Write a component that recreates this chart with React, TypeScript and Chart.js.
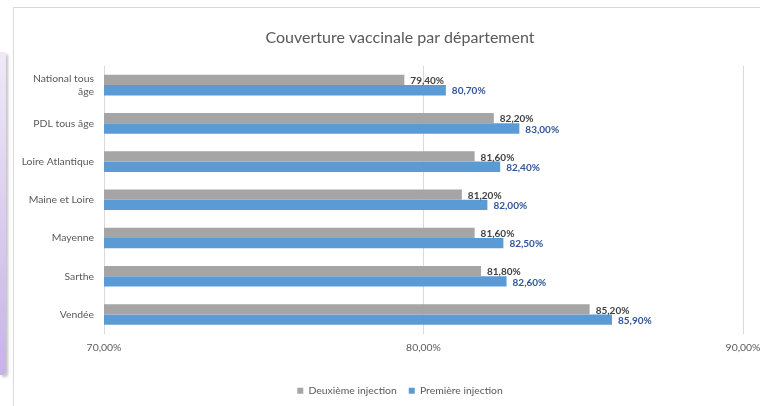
import React, { useEffect, useRef } from "react";
import { Chart, registerables } from "chart.js";

Chart.register(...registerables);

const categories: (string | string[])[] = [
  ["National tous", "âge"],
  "PDL tous âge",
  "Loire Atlantique",
  "Maine et Loire",
  "Mayenne",
  "Sarthe",
  "Vendée",
];
const deuxiemeInjection = [79.4, 82.2, 81.6, 81.2, 81.6, 81.8, 85.2];
const premiereInjection = [80.7, 83.0, 82.4, 82.0, 82.5, 82.6, 85.9];
const xTicks = [70, 80, 90];

const FONT = "Lato, 'Liberation Sans', sans-serif";
const fmt = (v: number) => v.toFixed(2).replace(".", ",") + "%";

const labelColors = ["#404040", "#2F5597"];

const dataLabelPlugin = {
  id: "dataLabels",
  afterDatasetsDraw(chart: any) {
    const ctx = chart.ctx;
    ctx.save();
    ctx.font = `bold 10px ${FONT}`;
    ctx.textAlign = "left";
    ctx.textBaseline = "middle";
    chart.data.datasets.forEach((ds: any, di: number) => {
      const meta = chart.getDatasetMeta(di);
      ctx.fillStyle = labelColors[di];
      meta.data.forEach((el: any, i: number) => {
        ctx.fillText(fmt(ds.data[i]), el.x + 6, el.y + 1);
      });
    });
    ctx.restore();
  },
};

export default function App() {
  const ref = useRef<HTMLCanvasElement>(null);
  useEffect(() => {
    if (!ref.current) return;
    const chart = new Chart(ref.current, {
      type: "bar",
      data: {
        labels: categories,
        datasets: [
          {
            label: "Deuxième injection",
            data: deuxiemeInjection,
            backgroundColor: "#A5A5A5",
            categoryPercentage: 0.54,
            barPercentage: 1,
          },
          {
            label: "Première injection",
            data: premiereInjection,
            backgroundColor: "#5B9BD5",
            categoryPercentage: 0.54,
            barPercentage: 1,
          },
        ],
      },
      options: {
        indexAxis: "y",
        animation: false,
        responsive: false,
        maintainAspectRatio: false,
        layout: { padding: { left: 0, right: 0, top: 0, bottom: 0 } },
        plugins: {
          title: {
            display: true,
            text: "Couverture vaccinale par département",
            color: "#595959",
            font: { family: FONT, size: 16, weight: "normal" },
            padding: { top: 28.4, bottom: 18.4 },
          },
          legend: {
            position: "bottom",
            labels: {
              boxWidth: 6,
              boxHeight: 6,
              padding: 12,
              color: "#595959",
              font: { family: FONT, size: 10.4 },
            },
          },
          tooltip: { enabled: false },
        },
        scales: {
          x: {
            min: 70,
            max: 90,
            afterBuildTicks: (scale: any) => {
              scale.ticks = xTicks.map((v) => ({ value: v }));
            },
            afterFit: (scale: any) => {
              scale.height = 40;
              scale.paddingRight = 44;
            },
            grid: { color: "#D9D9D9", drawTicks: false },
            border: { display: false },
            ticks: {
              padding: 8,
              color: "#595959",
              font: { family: FONT, size: 10.4 },
              callback: (v: any) => fmt(Number(v)),
            },
          },
          y: {
            afterFit: (scale: any) => {
              scale.width = 91;
            },
            grid: { display: false, drawTicks: false },
            border: { display: false },
            ticks: {
              padding: 10,
              color: "#595959",
              font: { family: FONT, size: 10.4 },
            },
          },
        },
      },
      plugins: [dataLabelPlugin],
    });
    return () => chart.destroy();
  }, []);

  return (
    <div
      style={{
        position: "absolute",
        left: 0,
        top: 0,
        width: 760,
        height: 406,
        overflow: "hidden",
        background: "#ffffff",
      }}
    >
      <div
        style={{
          position: "absolute",
          left: 0,
          top: 52,
          width: 6,
          height: 323,
          background: "linear-gradient(#EFE9F7, #C7B3E6)",
          borderRadius: "0 3px 3px 0",
          boxShadow: "2px 2px 3px rgba(0,0,0,0.25)",
        }}
      />
      <div
        style={{
          position: "absolute",
          left: 13,
          top: 7,
          width: 800,
          height: 420,
          border: "1px solid #D9D9D9",
          boxSizing: "border-box",
        }}
      />
      <canvas
        ref={ref}
        width={774}
        height={406}
        style={{ position: "absolute", left: 13, top: 0, width: 774, height: 406 }}
      />
    </div>
  );
}
